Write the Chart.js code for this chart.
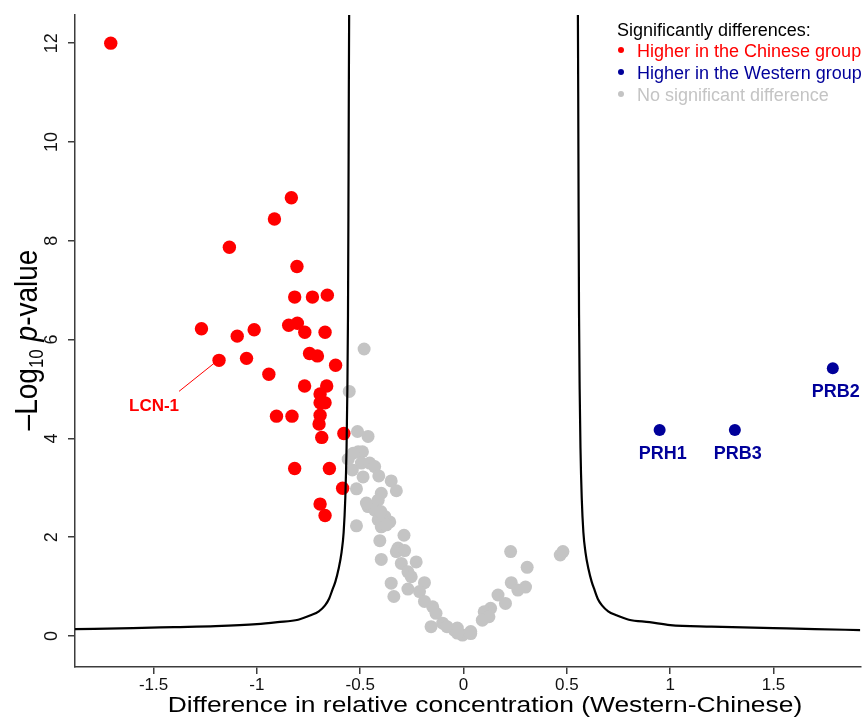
<!DOCTYPE html>
<html>
<head>
<meta charset="utf-8">
<title>Volcano plot - Western vs Chinese</title>
<script src="https://cdn.jsdelivr.net/npm/chart.js@4.4.1/dist/chart.umd.min.js"></script>
<style>
    html, body { margin: 0; padding: 0; background: #fff; }
    canvas { display: block; }
</style>
</head>
<body>
<canvas id="volcano" width="867" height="720"></canvas>
<script>
// Significantly higher in the Chinese group (red)
const chineseX = [-1.707, -0.833, -0.915, -1.133, -0.806, -0.817, -0.731, -0.659, -1.268, -1.095,
                  -1.013, -0.846, -0.804, -0.768, -0.670, -1.183, -1.050, -0.745, -0.707, -0.619,
                  -0.942, -0.769, -0.662, -0.694, -0.670, -0.694, -0.905, -0.830, -0.694, -0.699,
                  -0.686, -0.579, -0.817, -0.649, -0.585, -0.694, -0.670];
const chineseY = [12.0, 8.87, 8.44, 7.87, 7.48, 6.86, 6.86, 6.90, 6.22, 6.07,
                  6.20, 6.29, 6.33, 6.15, 6.15, 5.58, 5.62, 5.72, 5.67, 5.48,
                  5.30, 5.06, 5.06, 4.90, 4.72, 4.72, 4.45, 4.45, 4.47, 4.29,
                  4.02, 4.10, 3.39, 3.39, 2.99, 2.67, 2.44];
const chineseCallout = { index: 15, name: 'LCN-1' };

// Significantly higher in the Western group (blue)
const westernX = [0.949, 1.313, 1.787];
const westernY = [4.17, 4.17, 5.42];
const westernNames = ['PRH1', 'PRB3', 'PRB2'];

// No significant difference (grey)
const nsX = [-0.481, -0.553, -0.513, -0.462, -0.510, -0.489, -0.534, -0.558, -0.494, -0.454,
             -0.430, -0.538, -0.486, -0.410, -0.350, -0.325, -0.518, -0.398, -0.413, -0.462,
             -0.430, -0.381, -0.413, -0.357, -0.398, -0.518, -0.373, -0.288, -0.405, -0.317,
             -0.325, -0.285, -0.398, -0.301, -0.229, -0.269, -0.253, -0.350, -0.189, -0.269,
             -0.337, -0.213, -0.189, -0.149, -0.133, -0.157, -0.101, -0.045, -0.005, 0.035,
             0.228, 0.468, 0.481, 0.308, 0.231, 0.300, 0.263, 0.167, 0.203, 0.131,
             0.100, 0.123, 0.091, 0.035, -0.030, -0.080, -0.030, -0.470, -0.400];
const nsY = [5.81, 4.95, 4.14, 4.04, 3.73, 3.73, 3.70, 3.58, 3.50, 3.50,
             3.43, 3.36, 3.22, 3.24, 3.14, 2.94, 2.98, 2.89, 2.75, 2.62,
             2.55, 2.42, 2.35, 2.31, 2.21, 2.23, 2.25, 2.04, 1.93, 1.78,
             1.71, 1.73, 1.55, 1.47, 1.50, 1.30, 1.20, 1.07, 1.08, 0.95,
             0.80, 0.90, 0.70, 0.59, 0.46, 0.19, 0.26, 0.12, 0.02, 0.09,
             1.71, 1.64, 1.71, 1.39, 1.08, 0.99, 0.93, 0.83, 0.66, 0.56,
             0.49, 0.39, 0.32, 0.05, 0.16, 0.19, 0.06, 2.69, 2.52];

// Significance threshold curve
const curveLeftX = [-1.88, -1.6, -1.4, -1.2, -1.0, -0.9, -0.8, -0.74, -0.7, -0.67, -0.65, -0.635,
                    -0.62, -0.605, -0.59, -0.58, -0.572, -0.566, -0.562, -0.559, -0.557, -0.555, -0.553];
const curveLeftY = [0.14, 0.16, 0.18, 0.20, 0.24, 0.28, 0.33, 0.42, 0.50, 0.62, 0.76, 0.93,
                    1.10, 1.35, 1.70, 2.10, 2.80, 3.80, 5.00, 6.50, 8.50, 11.0, 13.0];
const curveRightX = [0.553, 0.555, 0.557, 0.559, 0.562, 0.566, 0.572, 0.58, 0.59, 0.605, 0.62,
                     0.635, 0.65, 0.67, 0.7, 0.74, 0.8, 0.9, 1.0, 1.2, 1.5, 1.7, 1.92];
const curveRightY = [13.0, 11.0, 8.50, 6.50, 5.00, 3.80, 2.80, 2.10, 1.70, 1.35, 1.10,
                     0.92, 0.75, 0.62, 0.50, 0.42, 0.33, 0.28, 0.22, 0.19, 0.16, 0.14, 0.12];

// Axes
const xTicks = [-1.5, -1, -0.5, 0, 0.5, 1, 1.5];
const yTicks = [0, 2, 4, 6, 8, 10, 12];
const xRange = [-1.88, 1.92];
const yRange = [-0.627, 12.57];

const RED = '#ff0000';
const BLUE = '#00009a';
const GREY = '#c4c4c4';
const AXIS = '#3c3c3c';
const FONT = '"Liberation Sans", Arial, Helvetica, sans-serif';

const toPoints = (xs, ys) => xs.map((x, i) => ({ x: x, y: ys[i] }));

// Draws titles, rotated y tick labels, point labels and the legend
const annotate = {
    id: 'annotate',
    afterDraw(chart) {
        const ctx = chart.ctx;
        const ys = chart.scales.y;

        // y tick labels, rotated like R's default
        ctx.save();
        ctx.fillStyle = '#111';
        ctx.font = '18px ' + FONT;
        ctx.textAlign = 'center';
        ctx.textBaseline = 'alphabetic';
        yTicks.forEach(v => {
            ctx.save();
            ctx.translate(57, ys.getPixelForValue(v));
            ctx.rotate(-Math.PI / 2);
            ctx.fillText(String(v), 0, 0);
            ctx.restore();
        });
        ctx.restore();

        // x title (source image is a bit stretched sideways)
        ctx.save();
        ctx.fillStyle = '#000';
        ctx.font = '22px ' + FONT;
        ctx.textAlign = 'center';
        ctx.textBaseline = 'alphabetic';
        ctx.translate(485, 712);
        ctx.scale(1.2, 1);
        ctx.fillText('Difference in relative concentration (Western-Chinese)', 0, 0);
        ctx.restore();

        // y title: -Log10 p-value with subscript and italic p
        ctx.save();
        ctx.fillStyle = '#000';
        ctx.translate(37, 340);
        ctx.scale(1.15, 1);
        ctx.rotate(-Math.PI / 2);
        const parts = [
            { t: '\u2013Log', f: '28px ' + FONT, dy: 0 },
            { t: '10', f: '17px ' + FONT, dy: 5 },
            { t: ' ', f: '28px ' + FONT, dy: 0 },
            { t: 'p', f: 'italic 28px ' + FONT, dy: 0 },
            { t: '-value', f: '28px ' + FONT, dy: 0 }
        ];
        let total = 0;
        parts.forEach(p => { ctx.font = p.f; p.w = ctx.measureText(p.t).width; total += p.w; });
        let cx = -total / 2;
        ctx.textAlign = 'left';
        ctx.textBaseline = 'alphabetic';
        parts.forEach(p => {
            ctx.font = p.f;
            ctx.fillText(p.t, cx, p.dy);
            cx += p.w;
        });
        ctx.restore();

        // Western point names under their dots
        const wMeta = chart.getDatasetMeta(2);
        ctx.save();
        ctx.fillStyle = BLUE;
        ctx.font = 'bold 18px ' + FONT;
        ctx.textAlign = 'center';
        ctx.textBaseline = 'middle';
        westernNames.forEach((name, i) => {
            const el = wMeta.data[i];
            ctx.fillText(name, el.x + 3, el.y + 24);
        });
        ctx.restore();

        // LCN-1 callout with leader line
        const cEl = chart.getDatasetMeta(3).data[chineseCallout.index];
        ctx.save();
        ctx.strokeStyle = RED;
        ctx.lineWidth = 1;
        ctx.beginPath();
        ctx.moveTo(cEl.x - 5, cEl.y + 3);
        ctx.lineTo(cEl.x - 40, cEl.y + 31);
        ctx.stroke();
        ctx.fillStyle = RED;
        ctx.font = 'bold 17px ' + FONT;
        ctx.textAlign = 'center';
        ctx.textBaseline = 'middle';
        ctx.fillText(chineseCallout.name, cEl.x - 65, cEl.y + 46);
        ctx.restore();

        // Legend, top right
        const rows = [
            { text: 'Higher in the Chinese group', color: RED },
            { text: 'Higher in the Western group', color: BLUE },
            { text: 'No significant difference', color: GREY }
        ];
        ctx.save();
        ctx.font = '18px ' + FONT;
        ctx.textAlign = 'left';
        ctx.textBaseline = 'middle';
        ctx.fillStyle = '#000';
        ctx.fillText('Significantly differences:', 617, 31);
        rows.forEach((r, i) => {
            const y = 52 + i * 22;
            ctx.fillStyle = r.color;
            ctx.beginPath();
            ctx.arc(621, y - 2, 3, 0, Math.PI * 2);
            ctx.fill();
            ctx.fillText(r.text, 637, y);
        });
        ctx.restore();
    }
};

const axisBase = {
    type: 'linear',
    grid: { drawOnChartArea: false, drawTicks: true, tickLength: 7, color: AXIS, lineWidth: 1.5 },
    border: { display: true, color: AXIS, width: 1.5 }
};

new Chart(document.getElementById('volcano'), {
    type: 'scatter',
    data: {
        datasets: [
            {
                label: 'threshold left',
                data: toPoints(curveLeftX, curveLeftY),
                showLine: true,
                borderColor: '#000',
                borderWidth: 2.2,
                pointRadius: 0,
                cubicInterpolationMode: 'monotone',
                fill: false
            },
            {
                label: 'threshold right',
                data: toPoints(curveRightX, curveRightY),
                showLine: true,
                borderColor: '#000',
                borderWidth: 2.2,
                pointRadius: 0,
                cubicInterpolationMode: 'monotone',
                fill: false
            },
            {
                label: 'Higher in the Western group',
                data: toPoints(westernX, westernY),
                backgroundColor: BLUE,
                borderWidth: 0,
                pointRadius: 6
            },
            {
                label: 'Higher in the Chinese group',
                data: toPoints(chineseX, chineseY),
                backgroundColor: RED,
                borderWidth: 0,
                pointRadius: 6.7
            },
            {
                label: 'No significant difference',
                data: toPoints(nsX, nsY),
                backgroundColor: GREY,
                borderWidth: 0,
                pointRadius: 6.5
            }
        ]
    },
    options: {
        responsive: false,
        animation: false,
        devicePixelRatio: 1,
        layout: { padding: { top: 15, right: 0, bottom: 0, left: 0 } },
        plugins: {
            legend: { display: false },
            tooltip: { enabled: false }
        },
        scales: {
            x: Object.assign({}, axisBase, {
                min: xRange[0],
                max: xRange[1],
                afterBuildTicks: s => { s.ticks = xTicks.map(v => ({ value: v })); },
                afterFit: s => { s.height = 53; },
                ticks: {
                    color: '#111',
                    font: { family: FONT, size: 17 },
                    padding: 1,
                    maxRotation: 0,
                    callback: v => String(v)
                }
            }),
            y: Object.assign({}, axisBase, {
                min: yRange[0],
                max: yRange[1],
                afterBuildTicks: s => { s.ticks = yTicks.map(v => ({ value: v })); },
                afterFit: s => { s.width = 75; },
                ticks: { display: false }
            })
        }
    },
    plugins: [annotate]
});
</script>
</body>
</html>
